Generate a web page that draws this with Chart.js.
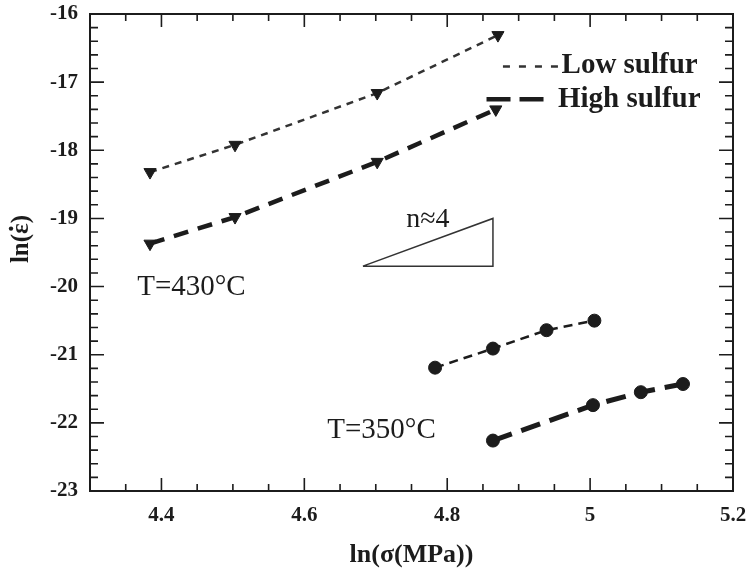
<!DOCTYPE html>
<html>
<head>
<meta charset="utf-8">
<script src="https://cdn.jsdelivr.net/npm/chart.js@4.4.1/dist/chart.umd.min.js"></script>
<style>
  html, body { margin: 0; padding: 0; background: #fff; }
  #wrap { width: 750px; height: 574px; }
</style>
</head>
<body>
<div id="wrap"><canvas id="creepChart" width="750" height="574"></canvas></div>
<script>
// --- data: ln(stress) vs ln(strain rate) ---
const sigLow430 = [4.384, 4.503, 4.702, 4.871];
const rateLow430 = [-18.32, -17.92, -17.16, -16.31];
const sigHigh430 = [4.384, 4.503, 4.702, 4.868];
const rateHigh430 = [-19.37, -18.98, -18.17, -17.40];
const sigLow350 = [4.783, 4.864, 4.939, 5.006];
const rateLow350 = [-21.19, -20.91, -20.64, -20.50];
const sigHigh350 = [4.864, 5.004, 5.071, 5.130];
const rateHigh350 = [-22.26, -21.74, -21.55, -21.43];

// slope triangle (n ~ 4)
const slopeX = [4.682, 4.864, 4.864, 4.682];
const slopeY = [-19.70, -19.70, -19.00, -19.70];

const xMajorLabels = ['4.4', '4.6', '4.8', '5', '5.2'];
const yMajorLabels = ['-23', '-22', '-21', '-20', '-19', '-18', '-17', '-16'];

const SERIF = "'Liberation Serif', 'DejaVu Serif', serif";
const INK = '#1c1c1c';

function toPoints(xs, ys) {
    return xs.map((v, i) => ({ x: v, y: ys[i] }));
}

// --- frame, inward ticks, legend and text notes ---
const overlay = {
    id: 'overlay',
    afterDraw(chart) {
        const { ctx, chartArea: a, scales: { x, y } } = chart;
        ctx.save();
        ctx.strokeStyle = INK;
        ctx.lineWidth = 2;
        ctx.strokeRect(a.left, a.top, a.width, a.height);

        ctx.lineWidth = 1.6;
        ctx.beginPath();
        for (let i = 86; i <= 104; i++) {
            const px = x.getPixelForValue(i / 20);
            const len = i % 4 === 0 ? 13 : 7;
            ctx.moveTo(px, a.bottom); ctx.lineTo(px, a.bottom - len);
            ctx.moveTo(px, a.top); ctx.lineTo(px, a.top + len);
        }
        for (let i = -115; i <= -80; i++) {
            const py = y.getPixelForValue(i / 5);
            const len = i % 5 === 0 ? 14 : 8;
            ctx.moveTo(a.left, py); ctx.lineTo(a.left + len, py);
            ctx.moveTo(a.right, py); ctx.lineTo(a.right - len, py);
        }
        ctx.stroke();

        // legend
        ctx.strokeStyle = '#333';
        ctx.lineWidth = 2.5;
        ctx.setLineDash([7, 9]);
        ctx.beginPath();
        ctx.moveTo(x.getPixelForValue(4.878), y.getPixelForValue(-16.77));
        ctx.lineTo(x.getPixelForValue(4.955), y.getPixelForValue(-16.77));
        ctx.stroke();
        ctx.strokeStyle = INK;
        ctx.lineWidth = 4.5;
        ctx.setLineDash([24, 9]);
        ctx.beginPath();
        ctx.moveTo(x.getPixelForValue(4.855), y.getPixelForValue(-17.25));
        ctx.lineTo(x.getPixelForValue(4.939), y.getPixelForValue(-17.25));
        ctx.stroke();
        ctx.setLineDash([]);

        ctx.fillStyle = INK;
        ctx.textBaseline = 'alphabetic';
        ctx.textAlign = 'left';
        ctx.font = 'bold 29px ' + SERIF;
        ctx.fillText('Low sulfur', x.getPixelForValue(4.960), y.getPixelForValue(-16.866));
        ctx.fillText('High sulfur', x.getPixelForValue(4.955), y.getPixelForValue(-17.366));

        ctx.textAlign = 'center';
        ctx.font = '29px ' + SERIF;
        ctx.fillText('T=430°C', x.getPixelForValue(4.442), y.getPixelForValue(-20.126));
        ctx.fillText('T=350°C', x.getPixelForValue(4.708), y.getPixelForValue(-22.226));
        ctx.font = '28px ' + SERIF;
        ctx.fillText('n≈4', x.getPixelForValue(4.773), y.getPixelForValue(-19.128));

        // y axis title, with the rate dot above epsilon
        ctx.translate(28, 239);
        ctx.rotate(-Math.PI / 2);
        ctx.font = 'bold 25px ' + SERIF;
        ctx.textAlign = 'left';
        const full = 'ln(ε)';
        const start = -ctx.measureText(full).width / 2;
        ctx.fillText(full, start, 0);
        const pre = ctx.measureText('ln(').width;
        const eps = ctx.measureText('ε').width;
        ctx.beginPath();
        ctx.arc(start + pre + eps / 2, -17, 2.2, 0, Math.PI * 2);
        ctx.fill();
        ctx.restore();
    }
};

const tickFont = { family: SERIF, size: 21, weight: 'bold' };

new Chart(document.getElementById('creepChart'), {
    type: 'scatter',
    data: {
        datasets: [
            {
                label: 'Low sulfur 430',
                data: toPoints(sigLow430, rateLow430),
                showLine: true,
                borderColor: '#333',
                borderWidth: 2.5,
                borderDash: [7, 6],
                pointStyle: 'triangle',
                rotation: 180,
                pointRadius: 7,
                backgroundColor: INK,
                pointBorderColor: INK,
                pointBorderWidth: 1
            },
            {
                label: 'High sulfur 430',
                data: toPoints(sigHigh430, rateHigh430),
                showLine: true,
                borderColor: INK,
                borderWidth: 4.5,
                borderDash: [15, 10],
                pointStyle: 'triangle',
                rotation: 180,
                pointRadius: 7,
                backgroundColor: INK,
                pointBorderColor: INK,
                pointBorderWidth: 1
            },
            {
                label: 'Low sulfur 350',
                data: toPoints(sigLow350, rateLow350),
                showLine: true,
                borderColor: INK,
                borderWidth: 2.5,
                borderDash: [9, 6],
                pointStyle: 'circle',
                pointRadius: 6.5,
                backgroundColor: INK,
                pointBorderColor: INK,
                pointBorderWidth: 1
            },
            {
                label: 'High sulfur 350',
                data: toPoints(sigHigh350, rateHigh350),
                showLine: true,
                borderColor: INK,
                borderWidth: 5,
                borderDash: [20, 10],
                pointStyle: 'circle',
                pointRadius: 6.5,
                backgroundColor: INK,
                pointBorderColor: INK,
                pointBorderWidth: 1
            },
            {
                label: 'slope',
                data: toPoints(slopeX, slopeY),
                showLine: true,
                borderColor: '#333',
                borderWidth: 1.5,
                pointRadius: 0
            }
        ]
    },
    options: {
        responsive: false,
        animation: false,
        layout: { padding: { left: 0, right: 17, top: 14, bottom: 0 } },
        plugins: {
            legend: { display: false },
            tooltip: { enabled: false }
        },
        scales: {
            x: {
                type: 'linear',
                min: 4.3,
                max: 5.2,
                afterFit: (scale) => {
                    scale.height = 83;
                    scale.paddingLeft = 0;
                    scale.paddingRight = 0;
                },
                grid: { display: false, drawTicks: false },
                border: { display: false },
                ticks: {
                    stepSize: 0.2,
                    autoSkip: false,
                    maxRotation: 0,
                    padding: 12,
                    color: INK,
                    font: tickFont,
                    callback: (v) => {
                        const lbl = xMajorLabels.find(s => Math.abs(parseFloat(s) - v) < 1e-6);
                        return lbl || '';
                    }
                },
                title: {
                    display: true,
                    text: 'ln(σ(MPa))',
                    color: INK,
                    font: { family: SERIF, size: 26, weight: 'bold' },
                    padding: { top: 0, bottom: 3 }
                }
            },
            y: {
                type: 'linear',
                min: -23,
                max: -16,
                afterFit: (scale) => {
                    scale.width = 90;
                    scale.paddingTop = 0;
                    scale.paddingBottom = 0;
                },
                grid: { display: false, drawTicks: false },
                border: { display: false },
                ticks: {
                    stepSize: 1,
                    autoSkip: false,
                    padding: 12,
                    color: INK,
                    font: tickFont,
                    callback: (v) => {
                        const lbl = yMajorLabels.find(s => Math.abs(parseFloat(s) - v) < 1e-6);
                        return lbl || '';
                    }
                },
                title: { display: false }
            }
        }
    },
    plugins: [overlay]
});
</script>
</body>
</html>
